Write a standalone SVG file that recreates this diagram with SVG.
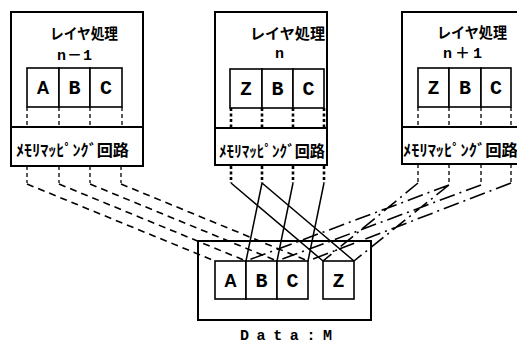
<svg xmlns="http://www.w3.org/2000/svg" width="517" height="345" viewBox="0 0 517 345">
<style>
.box{fill:none;stroke:#000;stroke-width:2}
.cell{fill:#fff;stroke:#000;stroke-width:1.6}
.jp{font-family:"Noto Sans CJK JP",sans-serif;font-weight:bold;fill:#000}
.lbl{font-family:"Liberation Mono","Noto Sans CJK JP",monospace;font-weight:bold;fill:#000}
.ltr{font-family:"Liberation Mono",monospace;font-weight:bold;font-size:20px;fill:#000;text-anchor:middle}
.ltrA{font-family:"Liberation Sans",sans-serif;font-weight:bold;font-size:18px;fill:#000;text-anchor:middle}
.stub{fill:none;stroke:#000;stroke-width:1.3;stroke-dasharray:4,3}
.stubB{fill:none;stroke:#000;stroke-width:2.6;stroke-dasharray:3,2.5}
.dash{fill:none;stroke:#000;stroke-width:1.6;stroke-dasharray:7,5}
.solid{fill:none;stroke:#000;stroke-width:1.5}
.chain{fill:none;stroke:#000;stroke-width:1.6;stroke-dasharray:16,5,2,5}
</style>

<g id="layer-n-1">
  <rect class="box" x="11" y="12" width="132" height="154"/>
  <line class="box" x1="11" y1="127" x2="143" y2="127"/>
  <text class="jp" x="50" y="39" font-size="15" textLength="68" lengthAdjust="spacingAndGlyphs">レイヤ処理</text>
  <text class="lbl" x="57" y="60" font-size="15" textLength="35" lengthAdjust="spacing">n－1</text>
  <rect class="cell" x="27" y="68" width="32" height="39"/>
  <rect class="cell" x="59" y="68" width="31" height="39"/>
  <rect class="cell" x="90" y="68" width="32" height="39"/>
  <text class="ltrA" x="43" y="94">A</text>
  <text class="ltr" x="74.5" y="94">B</text>
  <text class="ltr" x="106" y="94">C</text>
  <path class="stub" d="M27,107V127M59,107V127M90,107V127M122,107V127"/>
  <text class="jp" x="16" y="156" font-size="16" textLength="113" lengthAdjust="spacingAndGlyphs">ﾒﾓﾘﾏｯﾋﾟﾝｸﾞ回路</text>
</g>

<g id="layer-n">
  <rect class="box" x="215" y="12" width="112" height="153"/>
  <line class="box" x1="215" y1="128" x2="327" y2="128"/>
  <text class="jp" x="250" y="39" font-size="15" textLength="75" lengthAdjust="spacingAndGlyphs">レイヤ処理</text>
  <text class="lbl" x="275" y="58" font-size="15">n</text>
  <rect class="cell" x="230" y="69" width="32" height="39"/>
  <rect class="cell" x="262" y="69" width="31" height="39"/>
  <rect class="cell" x="293" y="69" width="31" height="39"/>
  <text class="ltr" x="246" y="95">Z</text>
  <text class="ltr" x="277.5" y="95">B</text>
  <text class="ltr" x="308.5" y="95">C</text>
  <path class="stubB" d="M231,108V128M262,108V128M293,108V128M324,108V128"/>
  <text class="jp" x="219" y="157" font-size="16" textLength="106" lengthAdjust="spacingAndGlyphs">ﾒﾓﾘﾏｯﾋﾟﾝｸﾞ回路</text>
</g>

<g id="layer-n+1">
  <rect class="box" x="402" y="12" width="120" height="152"/>
  <line class="box" x1="402" y1="127" x2="522" y2="127"/>
  <text class="jp" x="437" y="38" font-size="15" textLength="70" lengthAdjust="spacingAndGlyphs">レイヤ処理</text>
  <text class="lbl" x="443" y="58" font-size="15" textLength="39" lengthAdjust="spacing">n＋1</text>
  <rect class="cell" x="418" y="68" width="31" height="39"/>
  <rect class="cell" x="449" y="68" width="32" height="39"/>
  <rect class="cell" x="481" y="68" width="30" height="39"/>
  <text class="ltr" x="433.5" y="94">Z</text>
  <text class="ltr" x="465" y="94">B</text>
  <text class="ltr" x="496" y="94">C</text>
  <path class="stub" d="M418,107V127M449,107V127M481,107V127M511,107V127"/>
  <text class="jp" x="403" y="156" font-size="16" textLength="115" lengthAdjust="spacingAndGlyphs">ﾒﾓﾘﾏｯﾋﾟﾝｸﾞ回路</text>
</g>

<g id="data-m">
  <rect class="box" x="198" y="241" width="173" height="79"/>
  <rect class="cell" x="215" y="261" width="31" height="38"/>
  <rect class="cell" x="246" y="261" width="31" height="38"/>
  <rect class="cell" x="277" y="261" width="31" height="38"/>
  <rect class="cell" x="323" y="261" width="31" height="38"/>
  <text class="ltrA" x="230.5" y="287">A</text>
  <text class="ltr" x="261.5" y="287">B</text>
  <text class="ltr" x="292.5" y="287">C</text>
  <text class="ltr" x="338.5" y="287">Z</text>
  <text class="lbl" x="240" y="340" font-size="15" textLength="92" lengthAdjust="spacing">Data:M</text>
</g>

<g id="connectors">
  <!-- from layer n-1 (dashed) -->
  <path class="stub" d="M27,166V183M59,166V183M90,166V183M121,166V183"/>
  <path class="dash" d="M27,184L215,261M59,184L246,261M90,184L277,261M121,184L308,261"/>
  <!-- from layer n (solid) -->
  <path class="stubB" d="M231,166V183M262,166V183M293,166V183M324,166V183"/>
  <path class="solid" d="M231,183L323,261M262,183L354,261M262,183L246,261M293,183L277,261M324,183L308,261"/>
  <!-- from layer n+1 (chain) -->
  <path class="stub" d="M418,164V183M449,164V185M481,164V185M511,164V183"/>
  <path class="chain" d="M418,183L323,261M449,185L354,261M449,185L246,261M481,185L277,261M511,183L308,261"/>
</g>
</svg>
